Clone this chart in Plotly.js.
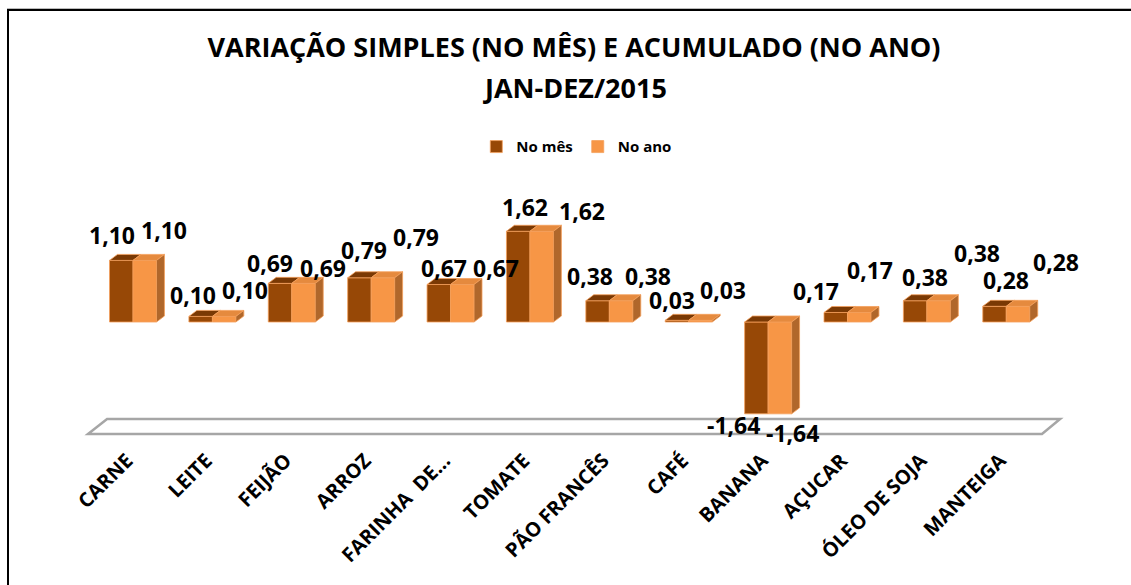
<!DOCTYPE html>
<html>
<head>
<meta charset="utf-8">
<script src="https://cdn.plot.ly/plotly-3.0.1.min.js"></script>
<style>
  html, body { margin: 0; padding: 0; overflow: hidden; background: #fff; }
  #chart { position: absolute; left: 0; top: 0; width: 1131px; height: 585px; }
  #frame { position: absolute; left: 7px; top: 9px; width: 1200px; height: 700px;
           border: 2px solid #000; pointer-events: none; box-shadow: 0 -1px 0 #bbb; }
</style>
</head>
<body>
<div id="chart"></div>
<div id="frame"></div>
<script>
const categories = ['CARNE', 'LEITE', 'FEIJÃO', 'ARROZ', 'FARINHA\u00a0 DE...', 'TOMATE',
                    'PÃO FRANCÊS', 'CAFÉ', 'BANANA', 'AÇUCAR', 'ÓLEO DE SOJA', 'MANTEIGA'];
const noMes = [1.10, 0.10, 0.69, 0.79, 0.67, 1.62, 0.38, 0.03, -1.64, 0.17, 0.38, 0.28];
const noAno = [1.10, 0.10, 0.69, 0.79, 0.67, 1.62, 0.38, 0.03, -1.64, 0.17, 0.38, 0.28];
const seriesNames = ['No mês', 'No ano'];
const titleLines = ['VARIAÇÃO SIMPLES (NO MÊS) E ACUMULADO (NO ANO)', 'JAN-DEZ/2015'];

// label placement nudges in pixels (style only, as placed in the original chart)
const nudgeMesX = [-9, -8, -10, 5, 5, 7, -8, -5, -23, -20, 10, 11];
const nudgeMesY = [25, 21, 20, 28, 16, 24, 25, 20, -11, 21, 24, 26];
const nudgeAnoX = [19, 21, 19, 33, 34, 40, 27, 23, 13, 11, 38, 38];
const nudgeAnoY = [30, 26, 15, 41, 16, 20, 25, 30, -19, 42, 48, 44];

const xs = categories.map((_, i) => i);
const BW = 0.296;      // bar width (x units)
const DX = 0.10;       // 3D depth in x units
const DY = 0.107;      // 3D depth in y units

const fmt = v => v.toFixed(2).replace('.', ',');

function facePolys(values, off, kind) {
  const X = [], Y = [];
  values.forEach((v, i) => {
    const x0 = i + off, x1 = x0 + BW;
    const top = Math.max(0, v), bot = Math.min(0, v);
    if (kind === 'top') {
      X.push(x0, x0 + DX, x1 + DX, x1, x0, null);
      Y.push(top, top + DY, top + DY, top, top, null);
    } else {
      X.push(x1, x1, x1 + DX, x1 + DX, x1, null);
      Y.push(bot, top, top + DY, bot + DY, bot, null);
    }
  });
  return {x: X, y: Y};
}

const C = {
  mesFront: '#974806', mesTop: '#7a3904',
  anoFront: '#f79646', anoTop: '#e58a3e', anoSide: '#b0672b',
  edge: '#f5a05a'
};

function faceTrace(poly, color) {
  return {type: 'scatter', mode: 'lines', x: poly.x, y: poly.y, fill: 'toself',
          fillcolor: color, line: {color: C.edge, width: 0.8}, hoverinfo: 'skip',
          showlegend: false, connectgaps: false};
}

const traces = [
  {type: 'bar', name: seriesNames[0], x: xs, y: noMes, width: BW, offset: -BW,
   marker: {color: C.mesFront, line: {color: C.edge, width: 0.8}}},
  {type: 'bar', name: seriesNames[1], x: xs, y: noAno, width: BW, offset: 0,
   marker: {color: C.anoFront, line: {color: C.edge, width: 0.8}}},
  faceTrace(facePolys(noMes, -BW, 'top'), C.mesTop),
  faceTrace(facePolys(noAno, 0, 'top'), C.anoTop),
  faceTrace(facePolys(noAno, 0, 'side'), C.anoSide)
];

const labelFont = {family: 'Open Sans', size: 23, color: '#000', weight: 'bold'};
const annotations = [];
noMes.forEach((v, i) => {
  annotations.push({x: i - BW / 2, y: v, xref: 'x', yref: 'y', text: '<b>' + fmt(v) + '</b>',
    showarrow: false, font: labelFont, xshift: nudgeMesX[i], yshift: nudgeMesY[i], yanchor: 'middle'});
});
noAno.forEach((v, i) => {
  annotations.push({x: i + BW / 2, y: v, xref: 'x', yref: 'y', text: '<b>' + fmt(v) + '</b>',
    showarrow: false, font: labelFont, xshift: nudgeAnoX[i], yshift: nudgeAnoY[i], yanchor: 'middle'});
});
annotations.push({xref: 'paper', yref: 'paper', x: 0.511, y: 1.545, xanchor: 'center', yanchor: 'middle',
  text: '<b>' + titleLines[1] + '</b>', showarrow: false,
  font: {family: 'Open Sans', size: 27, color: '#000'}});

const layout = {
  width: 1131, height: 585,
  margin: {l: 88, r: 89, t: 210, b: 151},
  paper_bgcolor: '#fff', plot_bgcolor: 'rgba(0,0,0,0)',
  barmode: 'overlay',
  title: {
    text: '<b>' + titleLines[0] + '</b>',
    font: {family: 'Open Sans', size: 27, color: '#000'},
    xref: 'container', x: 0.5075, yref: 'container', y: 1 - 48 / 585, yanchor: 'middle'
  },
  showlegend: true,
  legend: {
    orientation: 'h', xref: 'container', x: 0.510, xanchor: 'center',
    yref: 'container', y: 0.749, yanchor: 'middle',
    font: {family: 'Open Sans', size: 15, color: '#000', weight: 'bold'},
    itemwidth: 30, traceorder: 'normal'
  },
  xaxis: {
    type: 'linear', range: [-0.567, 11.45], tickvals: xs, ticktext: categories,
    tickangle: -45, ticks: '', showgrid: false, zeroline: false, showline: false,
    tickfont: {family: 'Open Sans', size: 20, color: '#000', weight: 'bold'},
    ticklabelstandoff: 10, ticklabelshift: -6, fixedrange: true
  },
  yaxis: {
    range: [-2, 2], showticklabels: false, showgrid: false, zeroline: false,
    showline: false, ticks: '', fixedrange: true
  },
  shapes: [{
    type: 'path', xref: 'paper', yref: 'paper', layer: 'below',
    path: 'M 0 0 L 1 0 L 1.019 0.067 L 0.02 0.067 Z',
    line: {color: '#a6a6a6', width: 2.5}, fillcolor: '#fff'
  }],
  annotations: annotations
};

Plotly.newPlot('chart', traces, layout, {displayModeBar: false, staticPlot: true});
</script>
</body>
</html>
